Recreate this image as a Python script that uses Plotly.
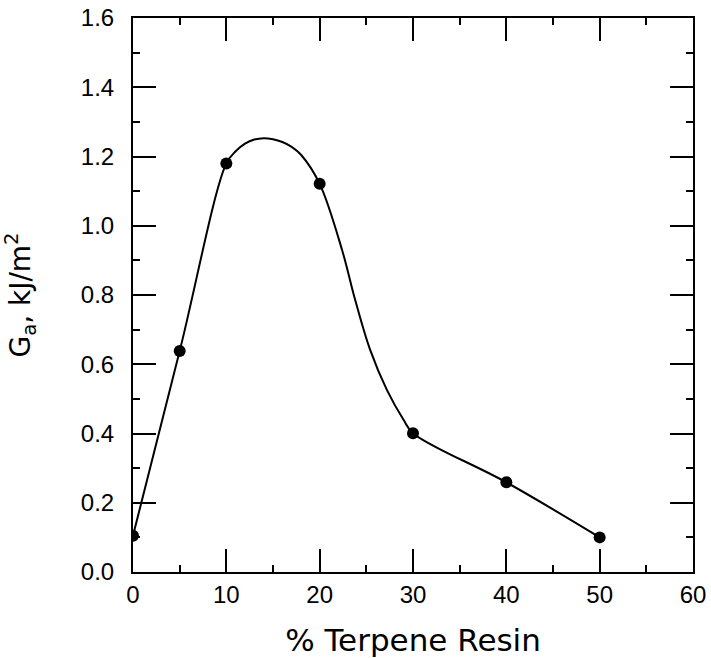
import plotly.graph_objects as go

# measured data points
resin_pct = [0, 5, 10, 20, 30, 40, 50]
ga_values = [0.105, 0.638, 1.18, 1.121, 0.401, 0.259, 0.100]

# hand-drawn fitted curve
curve_x = [0, 5, 10, 11, 12, 13, 14, 15, 16, 17, 18, 20, 22.4, 23.8, 25.4, 27.2, 29, 30, 40, 50]
curve_y = [0.105, 0.638, 1.18, 1.215, 1.237, 1.249, 1.253, 1.250, 1.242, 1.228, 1.205, 1.121,
           0.93, 0.786, 0.642, 0.526, 0.439, 0.401, 0.259, 0.100]

x_ticks = [0, 10, 20, 30, 40, 50, 60]
y_ticks = [0.0, 0.2, 0.4, 0.6, 0.8, 1.0, 1.2, 1.4, 1.6]

TICK_FONT = "Liberation Sans, Arial, sans-serif"
TITLE_FONT = "DejaVu Sans, Verdana, sans-serif"

fig = go.Figure()
fig.add_trace(go.Scatter(
    x=curve_x, y=curve_y, mode="lines",
    line=dict(color="black", width=2, shape="spline", smoothing=1.0),
    hoverinfo="skip", showlegend=False,
))
fig.add_trace(go.Scatter(
    x=resin_pct, y=ga_values, mode="markers",
    marker=dict(color="black", size=12),
    showlegend=False, cliponaxis=True,
))

axis_common = dict(
    showgrid=False, zeroline=False, automargin=False,
    showline=True, linecolor="black", linewidth=2,
    mirror="ticks", ticks="inside", ticklen=23, tickwidth=2, tickcolor="black",
    tickfont=dict(family=TICK_FONT, size=24, color="black"),
    ticklabeloverflow="allow",
)

fig.update_xaxes(
    range=[0, 60], tickvals=x_ticks, ticklabelstandoff=0,
    minor=dict(dtick=5, ticks="inside", ticklen=7, tickwidth=2, tickcolor="black"),
    title=dict(text="% Terpene Resin", font=dict(family=TITLE_FONT, size=31, color="black"), standoff=33),
    **axis_common,
)
fig.update_yaxes(
    range=[0, 1.6], tickvals=y_ticks, tickformat=".1f", ticklabelstandoff=12,
    minor=dict(dtick=0.1, ticks="inside", ticklen=7, tickwidth=2, tickcolor="black"),
    title=dict(text="G<sub>a</sub>, kJ/m<sup>2</sup>", font=dict(family=TITLE_FONT, size=28, color="black"), standoff=43),
    **axis_common,
)

fig.update_layout(
    width=711, height=658,
    margin=dict(l=133, r=18, t=18, b=86),
    paper_bgcolor="white", plot_bgcolor="white",
)

# remove the browser's default 8px body margin so the figure fills the window
fig.write_html("out.html", config={"displayModeBar": False},
               post_script="document.body.style.margin='0';")
